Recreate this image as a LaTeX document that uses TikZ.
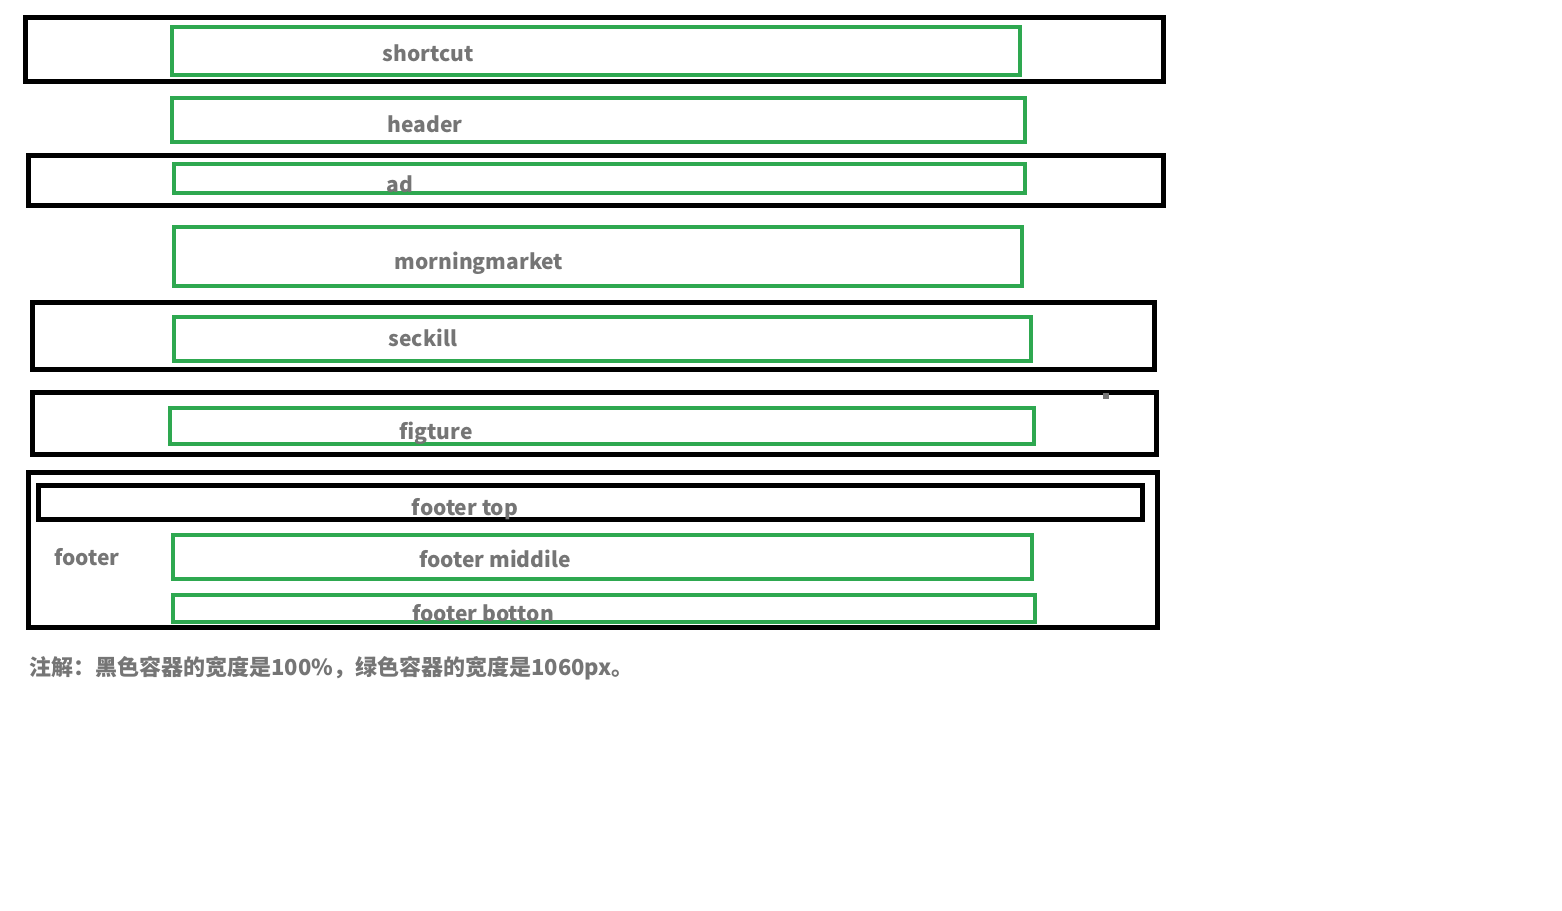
\documentclass[tikz,border=0pt]{standalone}
\usepackage{fontspec}
\setmainfont{Noto Sans CJK SC}
\definecolor{boxgreen}{RGB}{46,168,80}
\definecolor{labelgray}{RGB}{117,117,117}
\tikzset{
  blackbox/.style 2 args={draw=black, line width=2.7pt, inner sep=0pt, outer sep=0pt,
    minimum width=#1*0.5pt, minimum height=#2*0.5pt},
  greenbox/.style 2 args={draw=boxgreen, line width=2.3pt, inner sep=0pt, outer sep=0pt,
    minimum width=#1*0.5pt, minimum height=#2*0.5pt},
  lbl/.style={text=labelgray, font=\bfseries\fontsize{10.5pt}{12pt}\selectfont, anchor=base, inner sep=0pt}
}
\begin{document}
\begin{tikzpicture}[x=0.5pt,y=-0.5pt]
  \useasboundingbox[fill=white] (0,0) rectangle (1562,910);

  % black containers (100%)
  \begin{scope}
    \node[blackbox={1138}{64}]  (shortcutbox) at (594.5,49.5) {};
    \node[blackbox={1135}{50}]  (adbox)       at (596,180.5) {};
    \node[blackbox={1122}{67}]  (seckillbox)  at (593.5,336) {};
    \node[blackbox={1124}{62}]  (figturebox)  at (594.5,423.5) {};
    \node[blackbox={1129}{155}] (footerbox)   at (593,550) {};
    \node[blackbox={1104}{34}]  (footertop)   at (590.5,502.5) {};
  \end{scope}

  % green containers (1060px)
  \begin{scope}
    \node[greenbox={848}{48}] (shortcut)      at (596,51) {};
    \node[greenbox={853}{44}] (header)        at (598.5,120) {};
    \node[greenbox={851}{29}] (ad)            at (599.5,178.5) {};
    \node[greenbox={848}{59}] (morningmarket) at (598,256.5) {};
    \node[greenbox={857}{44}] (seckill)       at (602.5,339) {};
    \node[greenbox={864}{36}] (figture)       at (602,426) {};
    \node[greenbox={859}{44}] (footermiddle)  at (602.5,557) {};
    \node[greenbox={862}{27}] (footerbotton)  at (604,608.5) {};
  \end{scope}

  \node[fill=labelgray, inner sep=0pt, minimum size=3pt] (mark) at (1105.5,395.5) {};

  % labels
  \begin{scope}[every node/.style={lbl}]
    \node (shortcutlbl)      at (428,61)  {shortcut};
    \node (headerlbl)        at (425,132) {header};
    \node (adlbl)            at (400,192) {ad};
    \node (morningmarketlbl) at (479,269) {morningmarket};
    \node (seckilllbl)       at (423,346) {seckill};
    \node (figturelbl)       at (436,439) {figture};
    \node (footertoplbl)     at (465,515) {footer top};
    \node (footerlbl)        at (87,565)  {footer};
    \node (footermiddlelbl)  at (495,567) {footer middile};
    \node (footerbottonlbl)  at (483,621) {footer botton};
  \end{scope}

  \node[lbl, anchor=base west, font=\bfseries\fontsize{11pt}{13pt}\selectfont] (note) at (29,675)
    {注解：黑色容器的宽度是100\%，绿色容器的宽度是1060px。};

\end{tikzpicture}
\end{document}
